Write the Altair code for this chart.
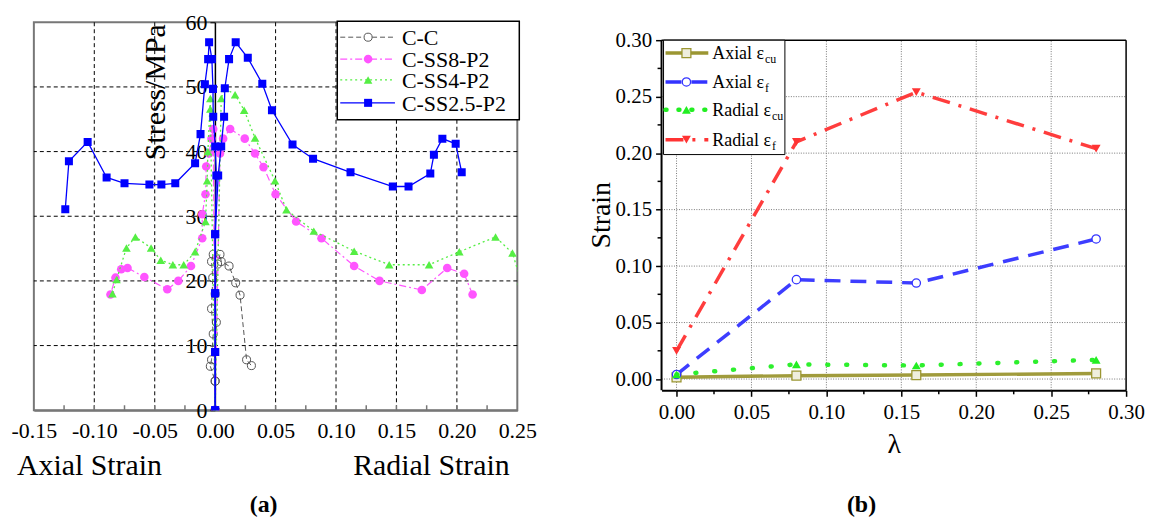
import altair as alt
import pandas as pd

FONT = "Liberation Serif"

# ================= Panel (a): stress vs axial / radial strain =================
series_a = ["C-C", "C-SS8-P2", "C-SS4-P2", "C-SS2.5-P2"]

cc_axial_x = [0.0, 0.0, -0.004, -0.003, -0.0016, -0.003, -0.002, -0.003, -0.0016]
cc_axial_y = [0.0, 4.5, 6.8, 7.8, 11.8, 15.7, 20.5, 23.0, 24.1]
cc_radial_x = [0.0, 0.0, 0.001, 0.0, 0.002, 0.004, 0.005, 0.0115, 0.017, 0.0206, 0.026, 0.030]
cc_radial_y = [0.0, 4.5, 13.6, 18.0, 22.6, 24.1, 23.0, 22.3, 19.7, 17.8, 7.8, 6.9]

s8_axial_x = [0.0, -0.0016, -0.003, -0.005, -0.0074, -0.008, -0.0107, -0.0107, -0.020, -0.0305,
              -0.0396, -0.0586, -0.0725, -0.0777, -0.0825, -0.0866]
s8_axial_y = [0.0, 43.5, 42.0, 39.7, 37.7, 33.4, 30.3, 26.6, 22.3, 20.0, 18.7, 20.6, 22.0, 21.8, 20.5, 17.9]
s8_radial_x = [0.0, 0.004, 0.0066, 0.0124, 0.0245, 0.033, 0.040, 0.050, 0.067, 0.088, 0.115, 0.136,
               0.171, 0.192, 0.206, 0.213]
s8_radial_y = [0.0, 39.7, 42.0, 43.5, 42.0, 39.7, 37.6, 33.4, 29.2, 26.6, 22.3, 20.0, 18.6, 22.0, 21.1, 17.9]

s4_axial_x = [0.0, -0.004, -0.004, -0.006, -0.0066, -0.008, -0.0166, -0.026, -0.035, -0.045, -0.053,
              -0.066, -0.0734, -0.0816, -0.085]
s4_axial_y = [0.0, 46.6, 48.2, 40.0, 35.5, 29.2, 24.5, 22.5, 22.5, 23.2, 25.1, 26.8, 25.1, 20.2, 18.0]
s4_radial_x = [0.0, 0.005, 0.008, 0.0165, 0.024, 0.033, 0.0495, 0.059, 0.0816, 0.115, 0.144, 0.177,
               0.202, 0.232, 0.246, 0.253]
s4_radial_y = [0.0, 48.2, 49.8, 48.8, 46.4, 42.1, 35.5, 31.0, 27.7, 24.6, 22.5, 22.5, 24.5, 26.8, 24.3, 20.0]

s25_axial_x = [0.0, 0.0, 0.0, 0.0, 0.001, 0.0, -0.0016, -0.0018, -0.0027, -0.005, -0.0058, -0.0085,
               -0.0121, -0.0166, -0.033, -0.0445, -0.0544, -0.075, -0.0898, -0.1055, -0.121, -0.124]
s25_axial_y = [0.0, 9.0, 18.1, 27.2, 36.3, 40.8, 45.4, 49.7, 54.3, 56.9, 54.3, 50.4, 42.7, 38.2, 35.1,
               34.9, 34.9, 35.1, 36.0, 41.5, 38.5, 31.1]
s25_radial_x = [0.0, 0.0, 0.0, 0.0, 0.0025, 0.005, 0.0074, 0.008, 0.0115, 0.017, 0.027, 0.039, 0.047,
                0.064, 0.081, 0.112, 0.147, 0.160, 0.178, 0.181, 0.188, 0.199, 0.204]
s25_radial_y = [0.0, 9.0, 18.1, 27.2, 36.3, 40.8, 45.4, 49.8, 54.3, 56.9, 54.5, 50.5, 46.4, 41.1, 38.9,
                36.8, 34.6, 34.6, 36.6, 39.5, 42.0, 41.2, 36.8]

xa_ticks = [-0.15, -0.10, -0.05, 0.00, 0.05, 0.10, 0.15, 0.20, 0.25]
xa_grid = [-0.10, -0.05, 0.05, 0.10, 0.15, 0.20]
xa_minor = [-0.125, -0.10, -0.075, -0.05, -0.025, 0.025, 0.05, 0.075, 0.10, 0.125, 0.15, 0.175, 0.20, 0.225]
ya_ticks = [0, 10, 20, 30, 40, 50, 60]
ya_grid = [10, 20, 30, 40, 50]

# ================= Panel (b): strain vs lambda =================
lam = [0.0, 0.08, 0.16, 0.28]
axial_ecu = [0.0015, 0.003, 0.0035, 0.005]
axial_ef = [0.004, 0.088, 0.085, 0.124]
radial_ecu = [0.004, 0.013, 0.012, 0.017]
radial_ef = [0.025, 0.210, 0.254, 0.204]

xb_ticks = [0.0, 0.05, 0.10, 0.15, 0.20, 0.25, 0.30]
xb_minor = [0.025, 0.075, 0.125, 0.175, 0.225, 0.275]
yb_ticks = [0.0, 0.05, 0.10, 0.15, 0.20, 0.25, 0.30]
yb_minor = [0.025, 0.075, 0.125, 0.175, 0.225, 0.275]
xb_grid = [0.0, 0.05, 0.10, 0.15, 0.20, 0.25]
yb_grid = [0.0, 0.05, 0.10, 0.15, 0.20, 0.25]

# ---------------------------------------------------------------
W_A, H_A = 486, 390
W_B, H_B = 467, 370
YB_TOP = 0.31585  # domain top so that 0.30 sits 18 px below the panel top

def branch_df(ax_x, ax_y, rad_x, rad_y):
    rows = []
    for i, (x, y) in enumerate(zip(ax_x, ax_y)):
        rows.append({"branch": "axial", "i": i, "x": x, "y": y})
    for i, (x, y) in enumerate(zip(rad_x, rad_y)):
        rows.append({"branch": "radial", "i": i, "x": x, "y": y})
    return pd.DataFrame(rows)

data_a = {
    "C-C": branch_df(cc_axial_x, cc_axial_y, cc_radial_x, cc_radial_y),
    "C-SS8-P2": branch_df(s8_axial_x, s8_axial_y, s8_radial_x, s8_radial_y),
    "C-SS4-P2": branch_df(s4_axial_x, s4_axial_y, s4_radial_x, s4_radial_y),
    "C-SS2.5-P2": branch_df(s25_axial_x, s25_axial_y, s25_radial_x, s25_radial_y),
}

style_a = {
    "C-C": dict(color="#555555", dash=[5, 3], width=1.0, shape="circle", filled=False, size=65),
    "C-SS8-P2": dict(color="#ff55ff", dash=[7, 3, 2, 3], width=1.2, shape="circle", filled=True, size=75),
    "C-SS4-P2": dict(color="#55ee44", dash=[2, 3], width=1.3, shape="triangle-up", filled=True, size=75),
    "C-SS2.5-P2": dict(color="#0000ff", dash=None, width=1.3, shape="square", filled=True, size=65),
}

label_expr_a = "datum.value < 0 ? '-' + format(-datum.value, '.2f') : format(datum.value, '.2f')"

sx_a = alt.Scale(domain=[-0.15, 0.25], nice=False, zero=False)
sy_a = alt.Scale(domain=[0, 60], nice=False, zero=False)
XA = alt.X("x:Q", scale=sx_a, axis=alt.Axis(
    values=xa_ticks, labelExpr=label_expr_a, labelFontSize=22, labelColor="black",
    ticks=False, tickSize=0, grid=False, domainColor="#777777", domainWidth=2,
    labelPadding=10, labelFlush=False, labelOverlap=False, title=None))
YA = alt.Y("y:Q", scale=sy_a, axis=alt.Axis(
    values=ya_ticks, offset=-182, grid=False, tickSize=5, tickColor="black", tickWidth=1,
    domainColor="black", domainWidth=1.5, labelFontSize=22, labelColor="black",
    labelPadding=3, labelOverlap=False, title=None))

layers_a = []
layers_a.append(alt.Chart(pd.DataFrame({"x": xa_grid})).mark_rule(
    color="black", strokeWidth=1, strokeDash=[4, 3]).encode(x=XA))
layers_a.append(alt.Chart(pd.DataFrame({"y": ya_grid})).mark_rule(
    color="black", strokeWidth=1, strokeDash=[4, 3]).encode(y=YA))
layers_a.append(alt.Chart(pd.DataFrame({"x": xa_minor})).mark_rule(
    color="#777777", strokeWidth=1.5).encode(x=XA, y=alt.value(H_A), y2=alt.value(H_A - 5)))

for name in series_a:
    st = style_a[name]
    df = data_a[name]
    lkw = dict(color=st["color"], strokeWidth=st["width"], clip=True)
    if st["dash"]:
        lkw["strokeDash"] = st["dash"]
    layers_a.append(alt.Chart(df).mark_line(**lkw).encode(
        x=XA, y=YA, detail="branch:N", order="i:Q"))
    pkw = dict(shape=st["shape"], size=st["size"], filled=st["filled"], color=st["color"],
               opacity=1, clip=True)
    if not st["filled"]:
        pkw["strokeWidth"] = 1
    layers_a.append(alt.Chart(df).mark_point(**pkw).encode(x=XA, y=YA))

# legend (a)
one = pd.DataFrame({"k": [0]})
layers_a.append(alt.Chart(one).mark_rect(fill="white", stroke="black", strokeWidth=1.5).encode(
    x=alt.value(305), x2=alt.value(488), y=alt.value(-1), y2=alt.value(98)))
leg_rows_a = [15, 37, 58, 81]
for name, ry in zip(series_a, leg_rows_a):
    st = style_a[name]
    lkw = dict(color=st["color"], strokeWidth=st["width"])
    if st["dash"]:
        lkw["strokeDash"] = st["dash"]
    layers_a.append(alt.Chart(one).mark_rule(**lkw).encode(
        x=alt.value(308), x2=alt.value(363), y=alt.value(ry)))
    pkw = dict(shape=st["shape"], size=st["size"], filled=st["filled"], color=st["color"], opacity=1)
    if not st["filled"]:
        pkw["fill"] = "white"
        pkw["filled"] = True
        pkw["stroke"] = st["color"]
        pkw["strokeWidth"] = 1
    layers_a.append(alt.Chart(one).mark_point(**pkw).encode(x=alt.value(336), y=alt.value(ry)))
    layers_a.append(alt.Chart(one).mark_text(
        text=name, font=FONT, fontSize=22, align="left", baseline="middle", color="black").encode(
        x=alt.value(370), y=alt.value(ry + 1)))

# annotations (a)
layers_a.append(alt.Chart(one).mark_text(
    text="Stress/MPa", font=FONT, fontSize=30, angle=270, align="right", baseline="middle",
    color="black").encode(x=alt.value(123), y=alt.value(2)))
layers_a.append(alt.Chart(one).mark_text(
    text="Axial Strain", font=FONT, fontSize=30, align="left", baseline="alphabetic",
    color="black").encode(x=alt.value(-17), y=alt.value(455)))
layers_a.append(alt.Chart(one).mark_text(
    text="Radial Strain", font=FONT, fontSize=30, align="left", baseline="alphabetic",
    color="black").encode(x=alt.value(321), y=alt.value(455)))
layers_a.append(alt.Chart(one).mark_text(
    text="(a)", font=FONT, fontSize=24, fontWeight="bold", align="center", baseline="middle",
    color="black").encode(x=alt.value(231), y=alt.value(485)))

panel_a = alt.layer(*layers_a).properties(
    width=W_A, height=H_A, view=alt.ViewBackground(stroke="#777777", strokeWidth=2))

# ---------------------------------------------------------------
series_b = ["Axial ecu", "Axial ef", "Radial ecu", "Radial ef"]
vals_b = {"Axial ecu": axial_ecu, "Axial ef": axial_ef, "Radial ecu": radial_ecu, "Radial ef": radial_ef}
style_b = {
    "Axial ecu": dict(color="#9b9632", dash=None, shape="square", fill="#efeedd", size=80, cap="butt", width=3.5),
    "Axial ef": dict(color="#3333ff", dash=[16, 10], shape="circle", fill="white", size=70, cap="butt", width=3.5),
    "Radial ecu": dict(color="#22ee22", dash=[1, 18], shape="triangle-up", fill=None, size=80, cap="round", width=4.5),
    "Radial ef": dict(color="#ff3333", dash=[18, 9, 3, 9], shape="triangle-down", fill=None, size=80, cap="butt", width=3.5),
}

sx_b = alt.Scale(domain=[-0.01, 0.30], nice=False, zero=False)
sy_b = alt.Scale(domain=[-0.01, YB_TOP], nice=False, zero=False)
XB = alt.X("x:Q", scale=sx_b, axis=alt.Axis(
    values=xb_ticks, format=".2f", tickSize=6, tickColor="black", tickWidth=1.5,
    domainColor="black", domainWidth=2, labelFontSize=21, labelColor="black", labelPadding=5,
    labelFlush=False, labelOverlap=False, grid=False, title="λ", titleFontSize=28,
    titleFontWeight="normal", titleColor="black", titlePadding=8))
YB = alt.Y("y:Q", scale=sy_b, axis=alt.Axis(
    values=yb_ticks, format=".2f", tickSize=6, tickColor="black", tickWidth=1.5, domain=False,
    labelFontSize=21, labelColor="black", labelPadding=4, labelOverlap=False, grid=False, title=None))

layers_b = []
layers_b.append(alt.Chart(pd.DataFrame({"x": xb_grid})).mark_rule(
    color="#777777", strokeWidth=1, strokeDash=[1, 1.5]).encode(
    x=XB, y=alt.datum(-0.01), y2=alt.datum(0.30)))
layers_b.append(alt.Chart(pd.DataFrame({"y": yb_grid})).mark_rule(
    color="#777777", strokeWidth=1, strokeDash=[1, 1.5]).encode(
    y=YB, x=alt.datum(-0.01), x2=alt.datum(0.30)))
# frame
layers_b.append(alt.Chart(one).mark_rule(color="black", strokeWidth=1.5).encode(
    x=alt.datum(-0.01), x2=alt.datum(0.30), y=alt.datum(0.30)))
layers_b.append(alt.Chart(one).mark_rule(color="black", strokeWidth=1.5).encode(
    x=alt.datum(0.30), y=alt.datum(-0.01), y2=alt.datum(0.30)))
layers_b.append(alt.Chart(one).mark_rule(color="black", strokeWidth=2).encode(
    x=alt.datum(-0.01), y=alt.datum(-0.01), y2=alt.datum(0.30)))
# minor ticks
layers_b.append(alt.Chart(pd.DataFrame({"y": yb_minor})).mark_rule(color="black", strokeWidth=1.5).encode(
    y=YB, x=alt.value(0), x2=alt.value(-4)))
layers_b.append(alt.Chart(pd.DataFrame({"x": xb_minor})).mark_rule(color="black", strokeWidth=1.5).encode(
    x=XB, y=alt.value(H_B), y2=alt.value(H_B + 4)))

for name in series_b:
    st = style_b[name]
    df = pd.DataFrame({"x": lam, "y": vals_b[name]})
    lkw = dict(color=st["color"], strokeWidth=st["width"], strokeCap=st["cap"], opacity=0.95)
    if st["dash"]:
        lkw["strokeDash"] = st["dash"]
    layers_b.append(alt.Chart(df).mark_line(**lkw).encode(x=XB, y=YB))
    if st["fill"]:
        pkw = dict(shape=st["shape"], size=st["size"], filled=True, fill=st["fill"],
                   stroke=st["color"], strokeWidth=1.3, opacity=1)
    else:
        pkw = dict(shape=st["shape"], size=st["size"], filled=True, color=st["color"], opacity=1)
    layers_b.append(alt.Chart(df).mark_point(**pkw).encode(x=XB, y=YB))

# legend (b)
layers_b.append(alt.Chart(one).mark_rect(fill="white", stroke="black", strokeWidth=1).encode(
    x=alt.value(2), x2=alt.value(124), y=alt.value(18), y2=alt.value(133)))
leg_rows_b = [31, 60, 88, 118]
leg_main_b = ["Axial ε", "Axial ε", "Radial ε", "Radial ε"]
leg_sub_b = ["cu", "f", "cu", "f"]
leg_sub_x = [104, 104, 111, 111]
for name, ry, mtxt, stxt, sx in zip(series_b, leg_rows_b, leg_main_b, leg_sub_b, leg_sub_x):
    st = style_b[name]
    lkw = dict(color=st["color"], strokeWidth=st["width"], strokeCap=st["cap"])
    if st["dash"]:
        lkw["strokeDash"] = st["dash"] if name != "Radial ecu" else [1, 12]
    layers_b.append(alt.Chart(one).mark_rule(**lkw).encode(
        x=alt.value(4), x2=alt.value(47), y=alt.value(ry)))
    if st["fill"]:
        pkw = dict(shape=st["shape"], size=st["size"], filled=True, fill=st["fill"],
                   stroke=st["color"], strokeWidth=1.3, opacity=1)
    else:
        pkw = dict(shape=st["shape"], size=st["size"], filled=True, color=st["color"], opacity=1)
    layers_b.append(alt.Chart(one).mark_point(**pkw).encode(x=alt.value(25), y=alt.value(ry)))
    layers_b.append(alt.Chart(one).mark_text(
        text=mtxt, font=FONT, fontSize=18, align="left", baseline="alphabetic", color="black").encode(
        x=alt.value(51), y=alt.value(ry + 6)))
    layers_b.append(alt.Chart(one).mark_text(
        text=stxt, font=FONT, fontSize=12, align="left", baseline="alphabetic", color="black").encode(
        x=alt.value(sx), y=alt.value(ry + 10)))

layers_b.append(alt.Chart(one).mark_text(
    text="Strain", font=FONT, fontSize=28, angle=270, align="center", baseline="middle",
    color="black").encode(x=alt.value(-60), y=alt.value(194)))
layers_b.append(alt.Chart(one).mark_text(
    text="(b)", font=FONT, fontSize=24, fontWeight="bold", align="center", baseline="middle",
    color="black").encode(x=alt.value(201), y=alt.value(485)))

panel_b = alt.layer(*layers_b).properties(
    width=W_B, height=H_B, view=alt.ViewBackground(stroke="transparent"))

chart = alt.hconcat(panel_a, panel_b, spacing=49).properties(
    padding={"left": 2, "top": 1, "right": 0, "bottom": 0}
).configure(font=FONT).configure_axis(
    labelFont=FONT, titleFont=FONT
).configure_text(font=FONT)

chart.save("out.html", embed_options={"renderer": "svg", "actions": False})
